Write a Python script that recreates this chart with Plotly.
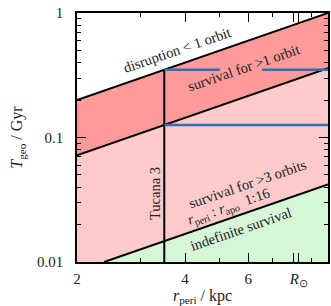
import math
import plotly.graph_objects as go

# ---- data ----
r_edges = [2.0, 10.0]                 # kpc, x-range of the panel
T_one_orbit = [0.2, 1.0]              # boundary: disruption < 1 orbit (at r=2, r=10)
T_three_orbits = [0.072, 0.36]        # boundary: survival > 3 orbits (at r=2, r=10)
r_indef = [2.38, 10.0]                # boundary: indefinite survival (r values)
T_indef = [0.01, 0.042]               # boundary: indefinite survival (T values)
T_min, T_max = 0.01, 1.0

r_tuc = 3.5                           # Tucana 3 pericentre, kpc
T_tuc_top = 0.35
T_tuc_low = 0.126
blue_top_segments = [[3.5, 5.0], [6.55, 10.0]]
blue_low_segment = [3.5, 10.0]

x_tickvals = [2, 4, 6, 8, 8.3]
x_ticktext = ["2", "4", "6", " ", "<i>R</i><sub>⊙</sub>"]
x_minor = [3, 5, 7, 9]
y_tickvals = [0.01, 0.1, 1]
y_ticktext = ["0.01", "0.1", "1"]
y_minor = [0.02, 0.03, 0.04, 0.05, 0.06, 0.07, 0.08, 0.09,
           0.2, 0.3, 0.4, 0.5, 0.6, 0.7, 0.8, 0.9]

# label positions (r, T) and text
label_r = [3.80, 5.80, 3.30, 5.95, 5.30, 5.72]
label_T = [0.50, 0.362, 0.0352, 0.0425, 0.0275, 0.0184]
label_text = ["disruption &lt; 1 orbit", "survival for &gt;1 orbit", "Tucana 3",
              "survival for &gt;3 orbits",
              "<i>r</i><sub>peri</sub> : <i>r</i><sub>apo</sub>  1:16",
              "indefinite survival"]
label_angle = [-19, -19, -90, -19, -19, -19]

FONT = "Liberation Serif"
TXT = "#222"
DARK = "#ff9a9a"
LIGHT = "#ffcaca"
GREEN = "#d6f7d6"
BLUE = "#2f6fb2"

fig = go.Figure()

# dark band between 1-orbit and 3-orbit lines
fig.add_trace(go.Scatter(
    x=[r_edges[0], r_edges[1], r_edges[1], r_edges[0]],
    y=[T_one_orbit[0], T_one_orbit[1], T_three_orbits[1], T_three_orbits[0]],
    fill="toself", fillcolor=DARK, line=dict(width=0), mode="lines",
    hoverinfo="skip", showlegend=False))
# light band
fig.add_trace(go.Scatter(
    x=[r_edges[0], r_edges[1], r_edges[1], r_indef[0], r_edges[0]],
    y=[T_three_orbits[0], T_three_orbits[1], T_indef[1], T_indef[0], T_min],
    fill="toself", fillcolor=LIGHT, line=dict(width=0), mode="lines",
    hoverinfo="skip", showlegend=False))
# green region
fig.add_trace(go.Scatter(
    x=[r_indef[0], r_indef[1], r_edges[1]],
    y=[T_indef[0], T_indef[1], T_min],
    fill="toself", fillcolor=GREEN, line=dict(width=0), mode="lines",
    hoverinfo="skip", showlegend=False))

# boundary lines
for xs, ys in [(r_edges, T_one_orbit), (r_edges, T_three_orbits), (r_indef, T_indef)]:
    fig.add_trace(go.Scatter(x=xs, y=ys, mode="lines",
                             line=dict(color="black", width=2),
                             hoverinfo="skip", showlegend=False))

# Tucana 3 vertical line
fig.add_trace(go.Scatter(x=[r_tuc, r_tuc], y=[T_min, T_tuc_top], mode="lines",
                         line=dict(color="black", width=2),
                         hoverinfo="skip", showlegend=False))

# blue horizontal lines
for seg in blue_top_segments:
    fig.add_trace(go.Scatter(x=seg, y=[T_tuc_top, T_tuc_top], mode="lines",
                             line=dict(color=BLUE, width=2.5),
                             hoverinfo="skip", showlegend=False))
fig.add_trace(go.Scatter(x=blue_low_segment, y=[T_tuc_low, T_tuc_low], mode="lines",
                         line=dict(color=BLUE, width=2.5),
                         hoverinfo="skip", showlegend=False))

for x, y, t, a in zip(label_r, label_T, label_text, label_angle):
    fig.add_annotation(x=math.log10(x), y=math.log10(y), xref="x", yref="y",
                       text=t, showarrow=False, textangle=a,
                       font=dict(family=FONT, size=14.5, color=TXT),
                       xanchor="center", yanchor="middle")

axis_common = dict(showline=True, linecolor="black", linewidth=1.5, mirror="allticks",
                   ticks="inside", tickcolor="black", tickwidth=1.3, ticklen=9,
                   showgrid=False, zeroline=False, automargin=False,
                   layer="above traces",
                   tickfont=dict(family=FONT, size=15, color=TXT))

fig.update_xaxes(type="log", range=[math.log10(r_edges[0]), math.log10(r_edges[1])],
                 tickvals=x_tickvals, ticktext=x_ticktext, ticklabelstandoff=2,
                 tickangle=0,
                 minor=dict(tickvals=x_minor, ticks="inside", ticklen=4.5,
                            tickcolor="black", tickwidth=1.3, showgrid=False),
                 title=dict(text="<i>r</i><sub>peri</sub> / kpc",
                            font=dict(family=FONT, size=16, color=TXT), standoff=0),
                 **axis_common)
fig.update_yaxes(type="log", range=[math.log10(T_min), math.log10(T_max)],
                 tickvals=y_tickvals, ticktext=y_ticktext, ticklabelstandoff=9,
                 minor=dict(tickvals=y_minor, ticks="inside", ticklen=4.5,
                            tickcolor="black", tickwidth=1.3, showgrid=False),
                 title=dict(text="<i>T</i><sub>geo</sub> / Gyr",
                            font=dict(family=FONT, size=16, color=TXT), standoff=10),
                 **axis_common)

fig.update_layout(width=331, height=306, margin=dict(l=77, r=3, t=13, b=44),
                  plot_bgcolor="white", paper_bgcolor="white", showlegend=False)

fig.write_html("out.html", config={"displayModeBar": False},
               post_script="document.body.style.margin='0';document.body.style.padding='0';")
